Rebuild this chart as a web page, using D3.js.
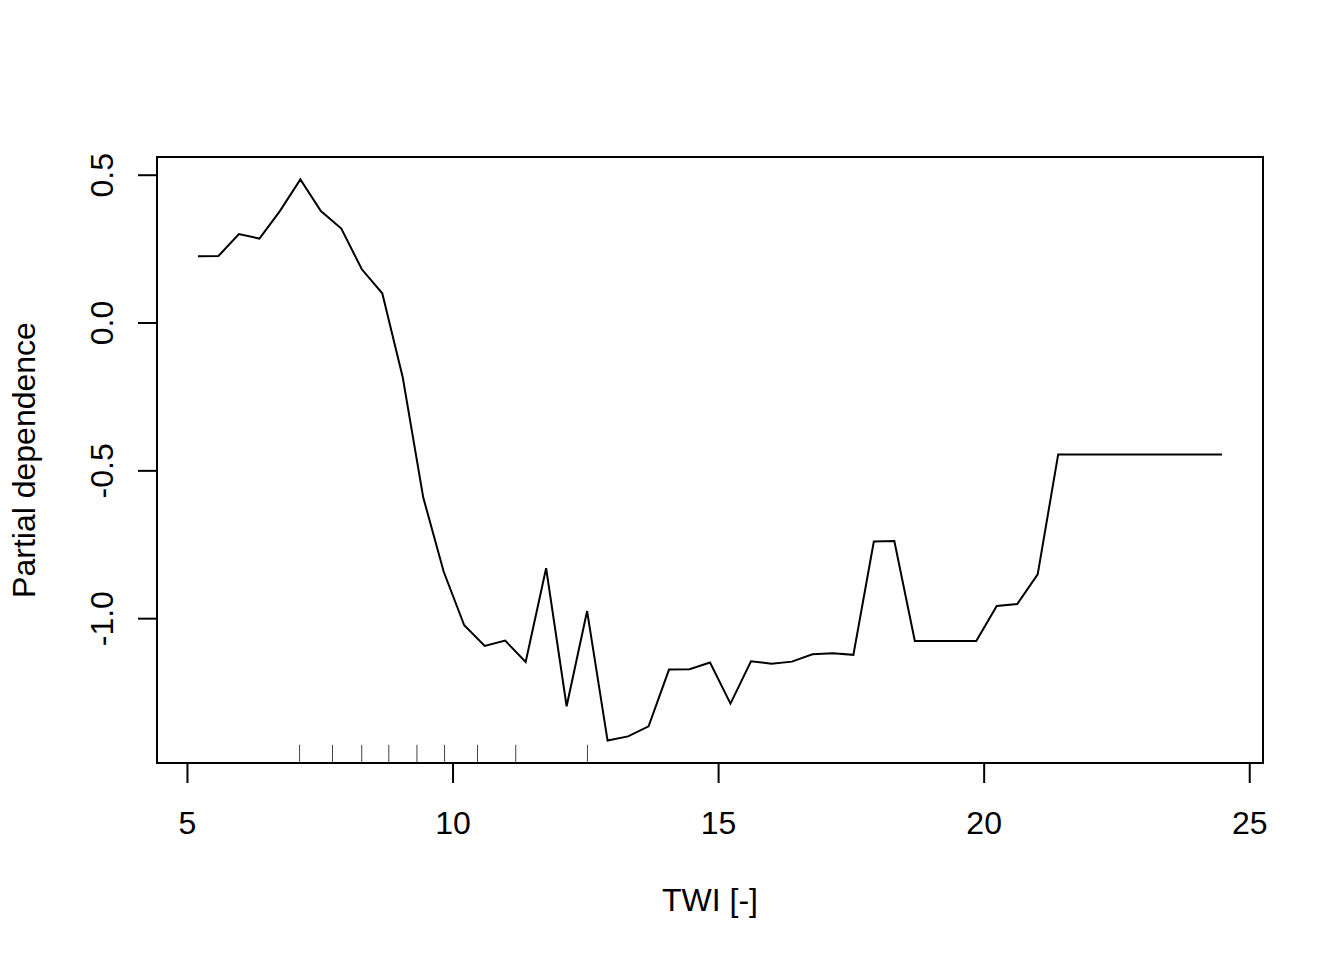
<!DOCTYPE html>
<html>
<head>
<meta charset="utf-8">
<script src="https://cdn.jsdelivr.net/npm/d3@7"></script>
<style>
  html, body { margin: 0; padding: 0; background: #fff; }
  svg { display: block; }
  text { font-family: "Liberation Sans", Arial, Helvetica, sans-serif; fill: #000; }
</style>
</head>
<body>
<svg id="chart" width="1344" height="960"></svg>
<script>
// TWI grid values (x)
const twi = [5.207, 5.593, 5.978, 6.364, 6.749, 7.135, 7.521, 7.906, 8.292, 8.677,
  9.063, 9.449, 9.834, 10.220, 10.606, 10.991, 11.377, 11.762, 12.148, 12.534,
  12.919, 13.305, 13.691, 14.076, 14.462, 14.848, 15.233, 15.619, 16.004, 16.390,
  16.776, 17.161, 17.547, 17.932, 18.318, 18.704, 19.089, 19.475, 19.861, 20.246,
  20.632, 21.017, 21.403, 21.789, 22.174, 22.560, 22.946, 23.331, 23.717, 24.102, 24.488];
// Partial dependence values (y)
const partialDependence = [0.224, 0.225, 0.299, 0.284, 0.377, 0.484, 0.377, 0.318, 0.180, 0.099,
  -0.186, -0.592, -0.843, -1.024, -1.094, -1.076, -1.148, -0.831, -1.298, -0.976,
  -1.414, -1.400, -1.366, -1.174, -1.173, -1.150, -1.289, -1.146, -1.154, -1.147,
  -1.122, -1.119, -1.124, -0.741, -0.739, -1.077, -1.077, -1.077, -1.077, -0.959,
  -0.952, -0.852, -0.446, -0.446, -0.446, -0.446, -0.446, -0.446, -0.446, -0.446, -0.446];
// Rug (deciles of TWI)
const rugValues = [7.12, 7.74, 8.29, 8.80, 9.33, 9.85, 10.47, 11.19, 12.54];
// Tick labels
const xTicks = [5, 10, 15, 20, 25];
const yTicks = [0.5, 0.0, -0.5, -1.0];
const xTitle = "TWI [-]";
const yTitle = "Partial dependence";

(function () {
const svg = d3.select("#chart");
const pL = 157, pR = 1263, pT = 157, pB = 763;

function pad(ext) { const d = (ext[1] - ext[0]) * 0.04; return [ext[0] - d, ext[1] + d]; }

const x = d3.scaleLinear().domain(pad(d3.extent(twi))).range([pL, pR]);
const y = d3.scaleLinear().domain(pad(d3.extent(partialDependence))).range([pB, pT]);

// Line
const data = twi.map((v, i) => [v, partialDependence[i]]);
svg.append("path")
  .datum(data)
  .attr("fill", "none")
  .attr("stroke", "#000")
  .attr("stroke-width", 2)
  .attr("stroke-linejoin", "miter")
  .attr("d", d3.line().x(d => x(d[0])).y(d => y(d[1])));

// Rug
const rugLen = (pB - pT) * 0.03;
svg.append("g").selectAll("line").data(rugValues).join("line")
  .attr("x1", d => x(d)).attr("x2", d => x(d))
  .attr("y1", pB).attr("y2", pB - rugLen)
  .attr("stroke", "#444").attr("stroke-width", 1);

// Box
svg.append("rect")
  .attr("x", pL).attr("y", pT)
  .attr("width", pR - pL).attr("height", pB - pT)
  .attr("fill", "none").attr("stroke", "#000").attr("stroke-width", 2);

// X axis
const xAxis = svg.append("g")
  .attr("transform", `translate(0,${pB})`)
  .call(d3.axisBottom(x).tickValues(xTicks).tickFormat(d3.format("d")).tickSize(20).tickSizeOuter(0));
xAxis.select(".domain").remove();
xAxis.selectAll(".tick line").attr("stroke", "#000").attr("stroke-width", 2);
xAxis.selectAll(".tick text")
  .attr("font-size", 32).attr("font-family", null)
  .attr("y", 71).attr("dy", 0);

// Y axis
const yAxis = svg.append("g")
  .attr("transform", `translate(${pL},0)`)
  .call(d3.axisLeft(y).tickValues(yTicks).tickFormat(d => d3.format(".1f")(d).replace("\u2212", "-")).tickSize(19).tickSizeOuter(0));
yAxis.select(".domain").remove();
yAxis.selectAll(".tick line").attr("stroke", "#000").attr("stroke-width", 2);
yAxis.selectAll(".tick text")
  .attr("font-size", 32).attr("font-family", null)
  .attr("x", 0).attr("y", 0).attr("dy", 0)
  .attr("text-anchor", "middle")
  .attr("transform", "translate(-44,0) rotate(-90)");

// Titles
svg.append("text")
  .attr("x", (pL + pR) / 2).attr("y", 911)
  .attr("text-anchor", "middle").attr("font-size", 32)
  .text(xTitle);
svg.append("text")
  .attr("transform", `translate(35,${(pT + pB) / 2}) rotate(-90)`)
  .attr("text-anchor", "middle").attr("font-size", 32)
  .text(yTitle);
})();
</script>
</body>
</html>
